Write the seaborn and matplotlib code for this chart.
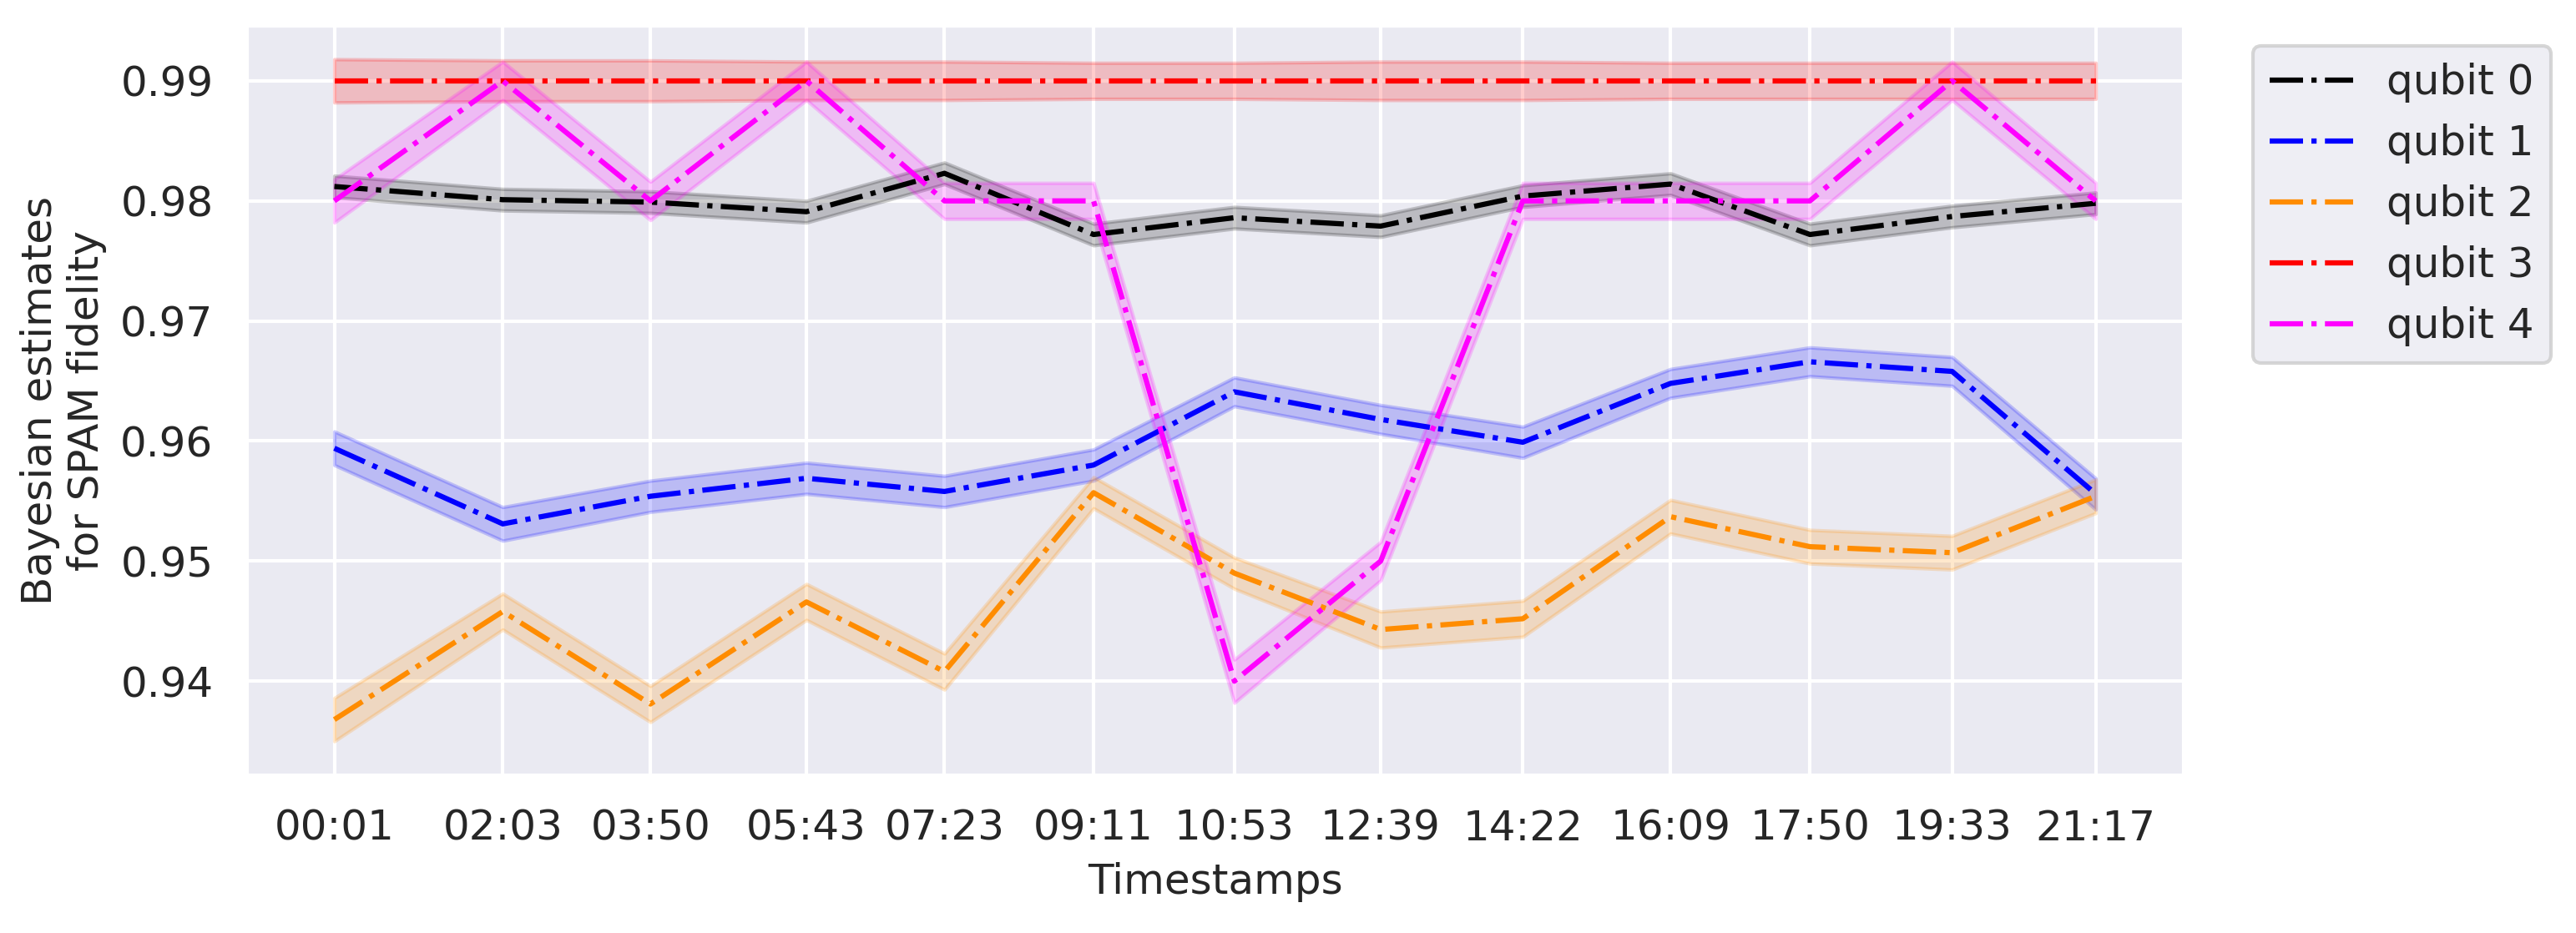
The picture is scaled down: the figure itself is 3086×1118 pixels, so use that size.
import numpy as np
import pandas as pd
import matplotlib
matplotlib.use("Agg")
import matplotlib.pyplot as plt
import seaborn as sns

# timestamps (HH:MM) and the same in minutes for the x axis
timestamps = ["00:01", "02:03", "03:50", "05:43", "07:23", "09:11", "10:53",
              "12:39", "14:22", "16:09", "17:50", "19:33", "21:17"]
minutes = [int(t[:2]) * 60 + int(t[3:]) for t in timestamps]

# Bayesian estimates of SPAM fidelity per qubit
q0 = [0.9812, 0.9801, 0.9799, 0.9791, 0.9823, 0.9772, 0.9786,
      0.9779, 0.9804, 0.9814, 0.9772, 0.9787, 0.9798]
q1 = [0.9594, 0.9531, 0.9554, 0.9569, 0.9558, 0.9580, 0.9641,
      0.9618, 0.9599, 0.9648, 0.9666, 0.9658, 0.9556]
q2 = [0.9368, 0.9458, 0.9381, 0.9466, 0.9408, 0.9557, 0.9490,
      0.9443, 0.9452, 0.9537, 0.9512, 0.9507, 0.9554]
q3 = [0.9900, 0.9900, 0.9900, 0.9900, 0.9900, 0.9900, 0.9900,
      0.9900, 0.9900, 0.9900, 0.9900, 0.9900, 0.9900]
q4 = [0.9800, 0.9900, 0.9800, 0.9900, 0.9800, 0.9800, 0.9400,
      0.9500, 0.9800, 0.9800, 0.9800, 0.9900, 0.9800]

# half-width of the credible band
e0 = [0.0009, 0.0009, 0.0009, 0.0009, 0.0009, 0.0009, 0.0009,
      0.0009, 0.0009, 0.0009, 0.0009, 0.0009, 0.0009]
e1 = [0.0014, 0.0014, 0.0013, 0.0013, 0.0013, 0.0013, 0.0012,
      0.0012, 0.0013, 0.0012, 0.0012, 0.0012, 0.0013]
e2 = [0.0018, 0.0015, 0.0015, 0.0015, 0.0015, 0.0013, 0.0013,
      0.0015, 0.0015, 0.0014, 0.0014, 0.0014, 0.0014]
e3 = [0.0018, 0.0017, 0.0017, 0.0016, 0.0016, 0.0015, 0.0015,
      0.0016, 0.0016, 0.0015, 0.0015, 0.0015, 0.0015]
e4 = [0.0018, 0.0016, 0.0016, 0.0016, 0.0015, 0.0015, 0.0018,
      0.0016, 0.0015, 0.0015, 0.0015, 0.0016, 0.0015]

labels = ["qubit 0", "qubit 1", "qubit 2", "qubit 3", "qubit 4"]
colors = ["black", "blue", "darkorange", "red", "magenta"]
means = [q0, q1, q2, q3, q4]
errs = [e0, e1, e2, e3, e4]

sns.set_theme(style="darkgrid")
plt.rcParams['font.family'] = ['DejaVu Sans']
plt.rcParams['xtick.labelsize'] = 12
plt.rcParams['ytick.labelsize'] = 12

fig, ax = plt.subplots(figsize=(10.287, 3.727), dpi=300)

for lab, col, m, e in zip(labels, colors, means, errs):
    df = pd.DataFrame({"t": minutes, "f": m})
    sns.lineplot(data=df, x="t", y="f", color=col, linestyle="-.",
                 linewidth=1.5, label=lab, ax=ax)
    lo = np.array(m) - np.array(e)
    hi = np.array(m) + np.array(e)
    ax.fill_between(minutes, lo, hi, color=col, alpha=0.2)

ax.set_xticks(minutes)
ax.set_xticklabels(timestamps)
ax.set_xlabel("Timestamps", fontsize=12)
ax.set_ylabel("Bayesian estimates\nfor SPAM fidelity", fontsize=12)
ax.legend(loc="upper left", bbox_to_anchor=(1.025, 1), fontsize=12)

fig.subplots_adjust(left=0.0956, right=0.8477, top=0.973, bottom=0.169)
plt.savefig("out.png", dpi=300)
